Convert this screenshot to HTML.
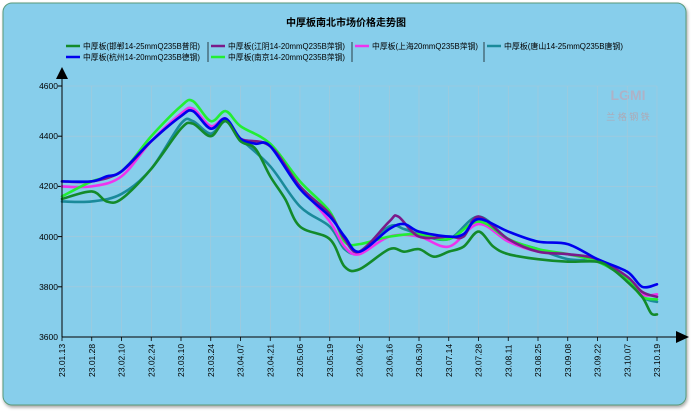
<!DOCTYPE html>
<html><head><meta charset="utf-8"><style>
html,body{margin:0;padding:0;width:692px;height:411px;background:#fff;overflow:hidden}
svg{display:block}
text{font-family:"Liberation Sans","Noto Sans CJK SC",sans-serif}
</style></head><body>
<svg id="s" width="692" height="411" xmlns="http://www.w3.org/2000/svg">
<defs><filter id="sh" x="-5%" y="-5%" width="110%" height="110%"><feDropShadow dx="1" dy="2" stdDeviation="1.5" flood-color="#000" flood-opacity="0.35"/></filter></defs>
<rect x="3" y="3" width="683" height="402" rx="9" fill="#87CEEB" stroke="#5a9a7a" stroke-width="1" filter="url(#sh)"/>
<text x="346" y="26" font-size="10" font-weight="bold" text-anchor="middle" fill="#000">中厚板南北市场价格走势图</text>
<g font-size="8" fill="#000">
<line x1="66" y1="46" x2="80" y2="46" stroke="#138a2a" stroke-width="2.5"/><text x="83" y="49" textLength="117" lengthAdjust="spacingAndGlyphs">中厚板(邯郸14-25mmQ235B普阳)</text>
<line x1="66" y1="57" x2="80" y2="57" stroke="#0000ee" stroke-width="2.5"/><text x="83" y="60" textLength="117" lengthAdjust="spacingAndGlyphs">中厚板(杭州14-20mmQ235B德钢)</text>
<line x1="208" y1="42" x2="208" y2="62" stroke="#000" stroke-width="0.7"/>
<line x1="211" y1="46" x2="225" y2="46" stroke="#7a1a8a" stroke-width="2.5"/><text x="228" y="49" textLength="117" lengthAdjust="spacingAndGlyphs">中厚板(江阴14-20mmQ235B萍钢)</text>
<line x1="211" y1="57" x2="225" y2="57" stroke="#22ee33" stroke-width="2.5"/><text x="228" y="60" textLength="117" lengthAdjust="spacingAndGlyphs">中厚板(南京14-20mmQ235B萍钢)</text>
<line x1="352" y1="42" x2="352" y2="62" stroke="#000" stroke-width="0.7"/>
<line x1="355" y1="46" x2="369" y2="46" stroke="#ee33ee" stroke-width="2.5"/><text x="372" y="49" textLength="106" lengthAdjust="spacingAndGlyphs">中厚板(上海20mmQ235B萍钢)</text>
<line x1="484" y1="42" x2="484" y2="62" stroke="#000" stroke-width="0.7"/>
<line x1="487" y1="46" x2="501" y2="46" stroke="#1a8a9a" stroke-width="2.5"/><text x="504" y="49" textLength="119" lengthAdjust="spacingAndGlyphs">中厚板(唐山14-25mmQ235B唐钢)</text>
</g>
<text x="628" y="100" font-size="14" font-weight="bold" fill="#c8a0b0" opacity="0.6" text-anchor="middle">LGMI</text>
<text x="628" y="120" font-size="9" fill="#c89090" opacity="0.6" text-anchor="middle">兰 格 钢 铁</text>
<g id="grid"></g>
<g id="lines" fill="none" stroke-width="2.6" stroke-linejoin="round" stroke-linecap="round"></g>
<line x1="62" y1="78" x2="62" y2="337" stroke="#000" stroke-width="1"/>
<line x1="62" y1="337" x2="678" y2="337" stroke="#000" stroke-width="1"/>
<polygon points="56,79 68,79 62,67" fill="#000"/>
<polygon points="676,331 676,343 689,337" fill="#000"/>
<text x="58" y="89" font-size="8.5" text-anchor="end">4600</text>
<text x="58" y="139" font-size="8.5" text-anchor="end">4400</text>
<text x="58" y="189" font-size="8.5" text-anchor="end">4200</text>
<text x="58" y="240" font-size="8.5" text-anchor="end">4000</text>
<text x="58" y="290" font-size="8.5" text-anchor="end">3800</text>
<text x="58" y="340" font-size="8.5" text-anchor="end">3600</text>
<g id="xl" font-size="8.5" fill="#000"></g>
</svg>
<script>
var X=function(i){return 62+i*29.75},Y=function(v){return 337-(v-3600)*0.251};
var ns="http://www.w3.org/2000/svg";
var dates=["23.01.13","23.01.28","23.02.10","23.02.24","23.03.10","23.03.24","23.04.07","23.04.21","23.05.06","23.05.19","23.06.02","23.06.16","23.06.30","23.07.14","23.07.28","23.08.11","23.08.25","23.09.08","23.09.22","23.10.07","23.10.19"];
var g=document.getElementById("grid"),xl=document.getElementById("xl"),h="";
for(var i=0;i<21;i++){var x=X(i);
 if(i>0)h+='<line x1="'+x+'" y1="86" x2="'+x+'" y2="337" stroke="#a8c8d8" stroke-width="0.6"/>';
 h+='<line x1="'+x+'" y1="337" x2="'+x+'" y2="341" stroke="#000" stroke-width="0.8"/>';
 xl.innerHTML+='<text transform="translate('+(x+3)+',377) rotate(-90)">'+dates[i]+'</text>';}
[4600,4400,4200,4000,3800].forEach(function(v){h+='<line x1="62" y1="'+Y(v)+'" x2="657" y2="'+Y(v)+'" stroke="#a8c8d8" stroke-width="0.6"/><line x1="58" y1="'+Y(v)+'" x2="62" y2="'+Y(v)+'" stroke="#000"/>';});
g.innerHTML=h;
var S=[
["#1a8a9a",[[0,4140],[1,4140],[2,4170],[3,4270],[4,4450],[4.4,4460],[5,4410],[5.5,4460],[6,4390],[7,4280],[8,4120],[9,4040],[9.5,3950],[10,3940],[11,4040],[11.5,4030],[12,4010],[13,3990],[14,4080],[15,3990],[16,3950],[17,3910],[18,3900],[19,3840],[19.5,3760],[20,3740]]],
["#ee33ee",[[0,4200],[1,4200],[2,4240],[3,4380],[4,4490],[4.4,4510],[5,4440],[5.5,4470],[6,4390],[7,4360],[8,4200],[9,4060],[9.5,3960],[10,3930],[11,4000],[12,4000],[13,3960],[14,4050],[15,3980],[16,3940],[17,3930],[18,3900],[19,3840],[19.5,3770],[20,3770]]],
["#22ee33",[[0,4160],[1,4220],[2,4260],[3,4400],[4,4520],[4.4,4540],[5,4460],[5.5,4500],[6,4440],[7,4370],[8,4220],[9,4100],[9.5,3980],[10,3970],[11,4000],[12,4010],[13,3990],[14,4060],[15,3990],[16,3950],[17,3930],[18,3900],[19,3830],[19.5,3760],[20,3750]]],
["#7a1a8a",[[0,4220],[1,4220],[2,4260],[3,4380],[4,4480],[4.4,4500],[5,4430],[5.5,4470],[6,4390],[7,4360],[8,4200],[9,4090],[9.5,3990],[10,3940],[11,4060],[11.3,4080],[12,4000],[13,4000],[13.5,4000],[14,4080],[15,3990],[16,3940],[17,3930],[18,3910],[19,3840],[19.5,3780],[20,3760]]],
["#0000ee",[[0,4220],[1,4220],[1.5,4240],[2,4260],[3,4380],[4,4480],[4.4,4500],[5,4430],[5.5,4470],[6,4390],[6.5,4370],[7,4360],[8,4190],[9,4080],[9.5,4000],[10,3940],[11,4030],[11.5,4050],[12,4020],[13,4000],[13.5,4010],[14,4070],[15,4020],[16,3980],[17,3970],[18,3910],[19,3860],[19.5,3800],[20,3810]]],
["#138a2a",[[0,4150],[1,4180],[1.5,4140],[2,4150],[3,4270],[4,4430],[4.4,4450],[5,4400],[5.5,4460],[6,4380],[6.5,4350],[7,4240],[7.5,4150],[8,4040],[9,3990],[9.5,3880],[10,3870],[11,3950],[11.5,3940],[12,3950],[12.5,3920],[13,3940],[13.5,3960],[14,4020],[14.5,3960],[15,3930],[16,3910],[17,3900],[18,3900],[18.5,3870],[19,3820],[19.5,3760],[19.8,3695],[20,3690]]]
];
var L=document.getElementById("lines");
S.forEach(function(s){var p=s[1].map(function(a){return [X(a[0]),Y(a[1])]});
 var d="M"+p[0][0]+","+p[0][1];
 for(var i=0;i<p.length-1;i++){var p0=p[i>0?i-1:i],p1=p[i],p2=p[i+1],p3=p[i+2<p.length?i+2:i+1];
  var c1x=p1[0]+(p2[0]-p0[0])/6,c1y=p1[1]+(p2[1]-p0[1])/6,c2x=p2[0]-(p3[0]-p1[0])/6,c2y=p2[1]-(p3[1]-p1[1])/6;
  d+=" C"+c1x+","+c1y+" "+c2x+","+c2y+" "+p2[0]+","+p2[1];}
 var e=document.createElementNS(ns,"path");e.setAttribute("d",d);e.setAttribute("stroke",s[0]);L.appendChild(e);});
</script>
</body></html>
